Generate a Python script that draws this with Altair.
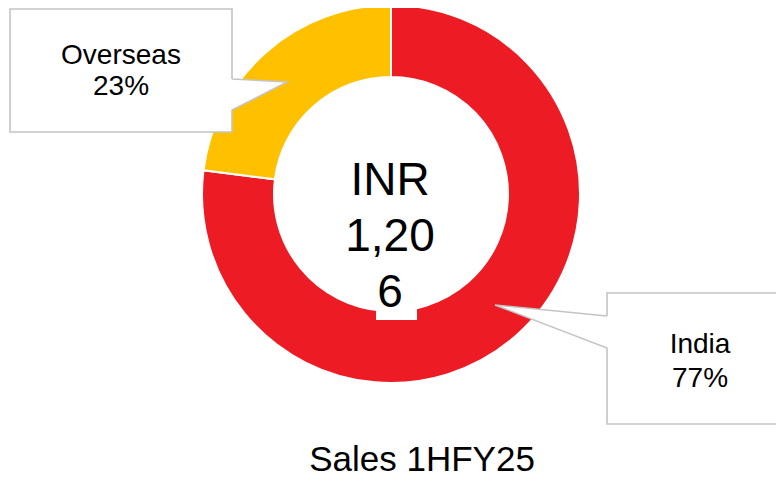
import altair as alt
import pandas as pd

# ---- data ----
categories = ["India", "Overseas"]
shares = [77, 23]
colors = ["#ED1C24", "#FFC000"]
center_lines = ["INR", "1,20", "6"]
chart_title = "Sales 1HFY25"

# ---- layout (chart pixel space) ----
W, H = 768, 471
CX, CY = 383, 186
R_OUT, R_IN = 189, 117
GRAY = "#C4C4C4"
FONT = "Liberation Sans"

slices = pd.DataFrame({"category": categories, "share": shares, "idx": list(range(len(categories)))})

xs = alt.Scale(domain=[0, W], range=[0, W], nice=False, zero=False)
ys = alt.Scale(domain=[0, H], range=[0, H], nice=False, zero=False)

arc = alt.Chart(slices).mark_arc(radius=R_OUT, radius2=R_IN, stroke="white", strokeWidth=2).encode(
    theta=alt.Theta("share:Q", stack=True),
    color=alt.Color("category:N", scale=alt.Scale(domain=categories, range=colors), legend=None),
    order=alt.Order("idx:Q"),
    x=alt.value(CX),
    y=alt.value(CY),
)

# white text-box behind the last line of the centre label
six_box = alt.Chart(slices.head(1)).mark_rect(color="white").encode(
    x=alt.value(368), x2=alt.value(409), y=alt.value(265), y2=alt.value(312)
)

center_text = alt.Chart(slices.head(1)).mark_text(
    text="\n".join(center_lines), lineBreak="\n", lineHeight=56, fontSize=46, font=FONT,
    align="center", baseline="alphabetic", color="black"
).encode(x=alt.value(CX - 1), y=alt.value(187))

# callouts
callouts = {
    "Overseas": dict(box=(2, 1, 224, 124), edge_x=224, e1=71, e2=102, tip=(279, 74),
                      tx=113, ty=56, lh=31),
    "India": dict(box=(599, 285, 800, 416), edge_x=599, e1=308, e2=340, tip=(487, 297),
                  tx=692, ty=345, lh=34),
}

layers = [arc, six_box]
outline_rows = []
area_rows = []
for name, c in callouts.items():
    x1, y1, x2, y2 = c["box"]
    layers.append(alt.Chart(slices.head(1)).mark_rect(color="white").encode(
        x=alt.value(x1), x2=alt.value(x2), y=alt.value(y1), y2=alt.value(y2)))
    ex, e1, e2 = c["edge_x"], c["e1"], c["e2"]
    tx_, ty_ = c["tip"]
    area_rows += [
        {"name": name, "px": ex, "py": e1, "py2": e2},
        {"name": name, "px": tx_, "py": ty_, "py2": ty_},
    ]
    if ex == x2:  # pointer on right side of box
        pts = [(ex, e1), (x2, y1), (x1, y1), (x1, y2), (x2, y2), (ex, e2), (tx_, ty_), (ex, e1)]
    else:
        pts = [(ex, e1), (x1, y1), (x2, y1), (x2, y2), (x1, y2), (ex, e2), (tx_, ty_), (ex, e1)]
    for i, (px, py) in enumerate(pts):
        outline_rows.append({"name": name, "px": px, "py": py, "o": i})

areas = alt.Chart(pd.DataFrame(area_rows)).mark_area(color="white", orient="vertical").encode(
    x=alt.X("px:Q", scale=xs, axis=None),
    y=alt.Y("py:Q", scale=ys, axis=None),
    y2="py2:Q",
    detail="name:N",
)
outlines = alt.Chart(pd.DataFrame(outline_rows)).mark_line(
    color=GRAY, strokeWidth=1.6, strokeJoin="miter"
).encode(
    x=alt.X("px:Q", scale=xs, axis=None),
    y=alt.Y("py:Q", scale=ys, axis=None),
    order="o:Q",
    detail="name:N",
)
layers += [areas, outlines]

for cat, sh in zip(categories, shares):
    c = callouts[cat]
    layers.append(alt.Chart(slices.head(1)).mark_text(
        text=f"{cat}\n{sh}%", lineBreak="\n", lineHeight=c["lh"], fontSize=28, font=FONT,
        align="center", baseline="alphabetic", color="black"
    ).encode(x=alt.value(c["tx"]), y=alt.value(c["ty"])))

layers.append(center_text)
layers.append(alt.Chart(slices.head(1)).mark_text(
    text=chart_title, fontSize=35, font=FONT, align="center", baseline="alphabetic", color="black"
).encode(x=alt.value(414), y=alt.value(463)))

chart = alt.layer(*layers).properties(
    width=W, height=H, padding=0, autosize=alt.AutoSizeParams(type="none")
).configure_view(stroke=None).resolve_scale(color="independent")

chart.save("out.html", embed_options={"renderer": "svg", "actions": False})
